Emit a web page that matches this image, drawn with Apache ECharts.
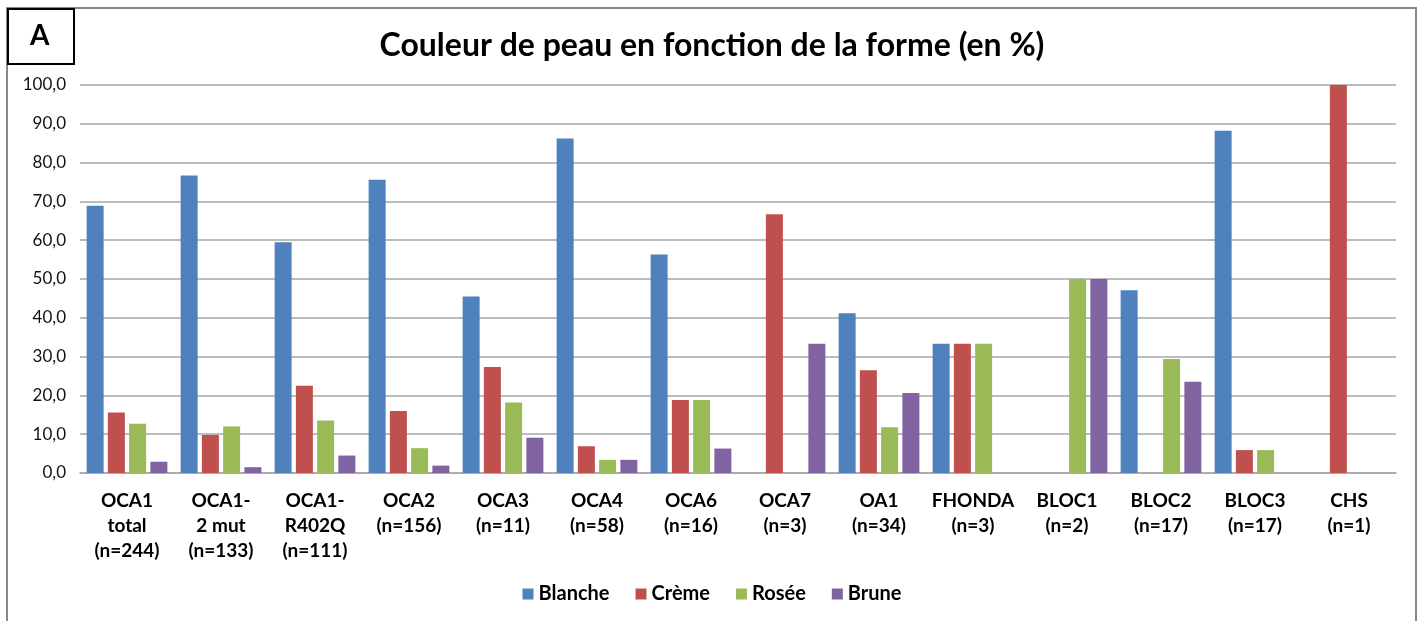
<!DOCTYPE html>
<html>
<head>
<meta charset="utf-8">
<script src="https://cdn.jsdelivr.net/npm/echarts@6/dist/echarts.min.js"></script>
<style>
  html, body { margin: 0; padding: 0; background: #fff; }
  #chart { width: 1424px; height: 621px; }
</style>
</head>
<body>
<div id="chart"></div>
<script>
const categories = [
  'OCA1\ntotal\n(n=244)', 'OCA1-\n2 mut\n(n=133)', 'OCA1-\nR402Q\n(n=111)', 'OCA2\n(n=156)',
  'OCA3\n(n=11)', 'OCA4\n(n=58)', 'OCA6\n(n=16)', 'OCA7\n(n=3)', 'OA1\n(n=34)',
  'FHONDA\n(n=3)', 'BLOC1\n(n=2)', 'BLOC2\n(n=17)', 'BLOC3\n(n=17)', 'CHS\n(n=1)'
]
const blanche = [68.9, 76.7, 59.5, 75.6, 45.5, 86.2, 56.3, 0, 41.2, 33.3, 0, 47.1, 88.2, 0]
const creme   = [15.6, 9.8, 22.5, 16.0, 27.3, 6.9, 18.8, 66.7, 26.5, 33.3, 0, 0, 5.9, 100]
const rosee   = [12.7, 12.0, 13.5, 6.4, 18.2, 3.4, 18.8, 0, 11.8, 33.3, 50, 29.4, 5.9, 0]
const brune   = [2.9, 1.5, 4.5, 1.9, 9.1, 3.4, 6.3, 33.3, 20.6, 0, 50, 23.5, 0, 0]

const font = 'Lato, "Open Sans", sans-serif'
const chart = echarts.init(document.getElementById('chart'))

function barSeries(name, color, data) {
  return {
    name: name,
    type: 'bar',
    data: data,
    barWidth: 17,
    barGap: '25%',
    itemStyle: { color: color }
  }
}

chart.setOption({
  animation: false,
  color: ['#4F81BD', '#C0504D', '#9BBB59', '#8064A2'],
  title: {
    text: 'Couleur de peau en fonction de la forme (en %)',
    left: 'center',
    top: 25,
    textStyle: { fontFamily: font, fontSize: 32, fontWeight: 'bold', color: '#000' }
  },
  graphic: [
    // cadre extérieur
    { type: 'rect', shape: { x: 7, y: 8, width: 1409, height: 640 },
      style: { fill: 'none', stroke: '#888', lineWidth: 2 }, silent: true },
    // boîte "A"
    { type: 'rect', shape: { x: 8, y: 9, width: 66, height: 55 },
      style: { fill: '#fff', stroke: '#000', lineWidth: 2 }, silent: true },
    { type: 'text', left: 30, top: 22,
      style: { text: 'A', font: 'bold 28px ' + font, fill: '#000' } }
  ],
  legend: {
    bottom: 12,
    left: 'center',
    itemWidth: 11,
    itemHeight: 11,
    itemGap: 26,
    icon: 'rect',
    textStyle: { fontFamily: font, fontSize: 20, color: '#000', fontWeight: 'bold' },
    data: ['Blanche', 'Crème', 'Rosée', 'Brune']
  },
  grid: { left: 80, right: 28, top: 85, bottom: 148 },
  xAxis: {
    type: 'category',
    data: categories,
    axisLine: { lineStyle: { color: '#a6a6a6', width: 1.5 } },
    axisTick: { show: false },
    axisLabel: {
      interval: 0,
      margin: 15,
      color: '#000',
      fontFamily: font,
      fontSize: 19,
      fontWeight: 'bold',
      lineHeight: 25
    }
  },
  yAxis: {
    type: 'value',
    min: 0,
    max: 100,
    interval: 10,
    axisLine: { show: false },
    axisTick: { show: false },
    splitLine: { lineStyle: { color: '#a6a6a6', width: 1.5 } },
    axisLabel: {
      margin: 14,
      color: '#111',
      fontFamily: font,
      fontSize: 17,
      formatter: v => v.toFixed(1).replace('.', ',')
    }
  },
  series: [
    barSeries('Blanche', '#4F81BD', blanche),
    barSeries('Crème', '#C0504D', creme),
    barSeries('Rosée', '#9BBB59', rosee),
    barSeries('Brune', '#8064A2', brune)
  ]
})

window.addEventListener('resize', () => {
  chart.resize()
})
</script>
</body>
</html>
